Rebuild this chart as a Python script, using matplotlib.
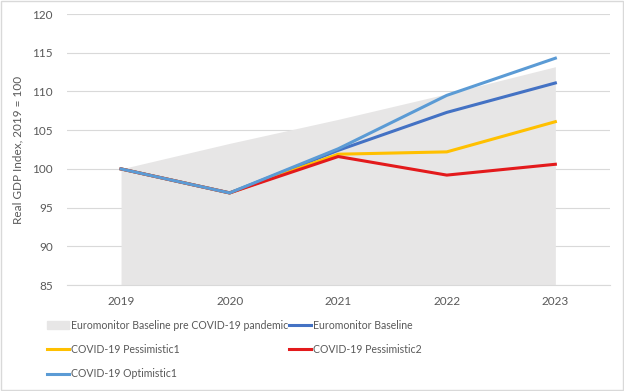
import matplotlib.pyplot as plt
from matplotlib.patches import Patch, Rectangle
from matplotlib.lines import Line2D

years = [2019, 2020, 2021, 2022, 2023]
pre_covid = [100, 103.3, 106.4, 109.7, 113.2]
baseline = [100, 96.9, 102.4, 107.3, 111.1]
pessimistic1 = [100, 96.9, 101.9, 102.2, 106.1]
pessimistic2 = [100, 96.9, 101.6, 99.2, 100.6]
optimistic1 = [100, 96.9, 102.6, 109.5, 114.3]

plt.rcParams['font.family'] = ['Lato', 'DejaVu Sans']
txt = '#595959'
grid = '#D9D9D9'

fig = plt.figure(figsize=(6.24, 3.91), dpi=100)
ax = fig.add_axes([0.107, 0.271, 0.870, 0.693])

ax.fill_between(years, 85, pre_covid, color='#E7E6E6', lw=0, zorder=1)
lw = 2.2
ax.plot(years, baseline, color='#4472C4', lw=lw, zorder=3)
ax.plot(years, pessimistic1, color='#FFC000', lw=lw, zorder=3)
ax.plot(years, pessimistic2, color='#E31A1C', lw=lw, zorder=3)
ax.plot(years, optimistic1, color='#5B9BD5', lw=lw, zorder=4)

ax.set_xlim(2018.5, 2023.5)
ax.set_ylim(85, 120)
ax.set_yticks(range(85, 121, 5))
ax.set_xticks(years)
ax.grid(axis='y', color=grid, lw=0.8, zorder=0)
ax.set_axisbelow(True)
for s in ['top', 'right', 'left']:
    ax.spines[s].set_visible(False)
ax.spines['bottom'].set_color(grid)
ax.tick_params(length=0, colors=txt, labelsize=8.5)
ax.tick_params(axis='x', pad=8)
ax.tick_params(axis='y', pad=10)
ax.set_ylabel('Real GDP Index, 2019 = 100', color=txt, fontsize=8.5, labelpad=6)

# legend split in two columns placed by hand (Excel layout)
col1 = [
    Patch(color='#E7E6E6', label='Euromonitor Baseline pre COVID-19 pandemic'),
    Line2D([], [], color='#FFC000', lw=lw, label='COVID-19 Pessimistic1'),
    Line2D([], [], color='#5B9BD5', lw=lw, label='COVID-19 Optimistic1'),
]
col2 = [
    Line2D([], [], color='#4472C4', lw=lw, label='Euromonitor Baseline'),
    Line2D([], [], color='#E31A1C', lw=lw, label='COVID-19 Pessimistic2'),
]
kw = dict(loc='upper left', frameon=False, fontsize=7.6, labelcolor=txt,
          handlelength=2.1, handletextpad=0.2, labelspacing=1.25,
          borderaxespad=0, borderpad=0)
leg1 = fig.legend(handles=col1, bbox_to_anchor=(0.075, 0.182), **kw)
leg2 = fig.legend(handles=col2, bbox_to_anchor=(0.463, 0.182), **kw)

fig.add_artist(Rectangle((0.001, 0.002), 0.997, 0.996, transform=fig.transFigure,
                         fill=False, edgecolor=grid, lw=1))

fig.savefig('out.png', dpi=100)
